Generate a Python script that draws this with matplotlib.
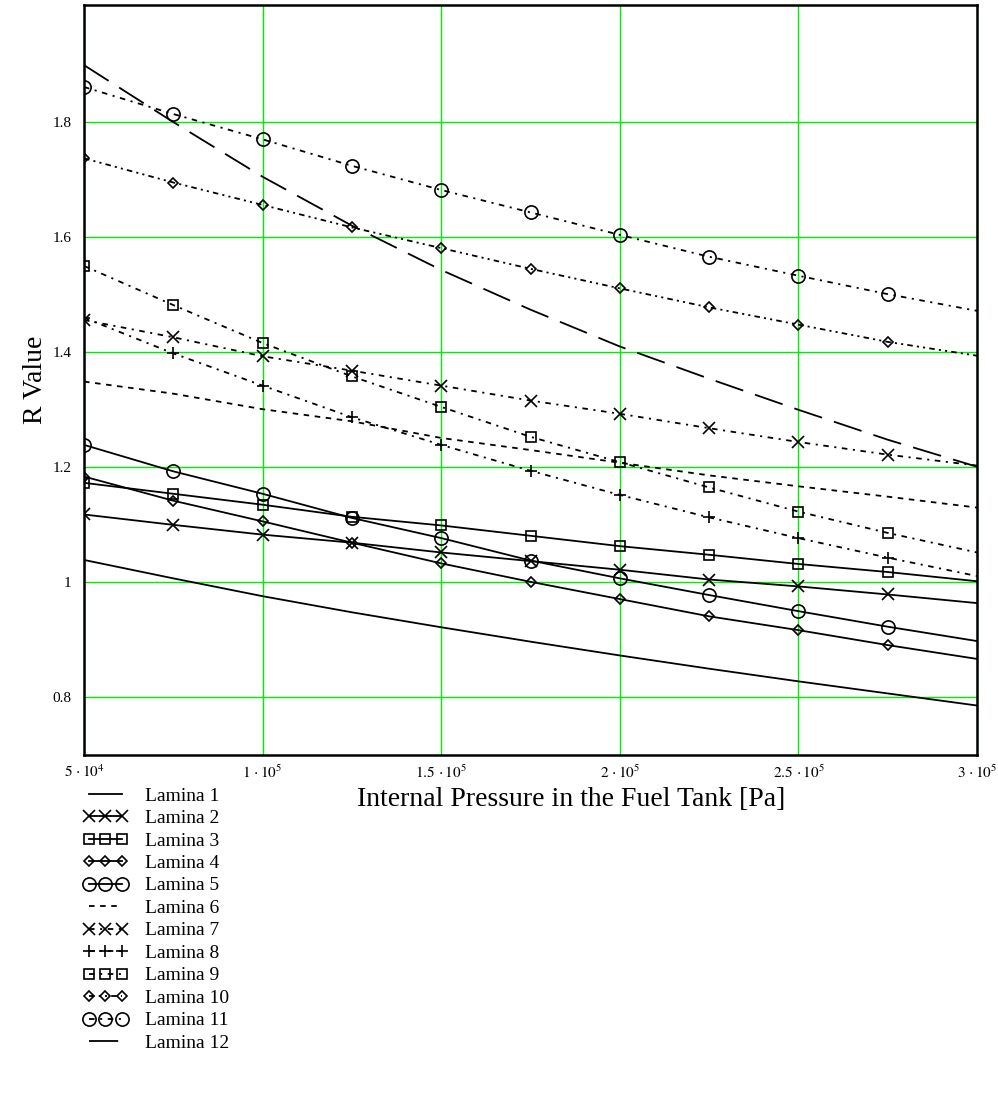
import matplotlib
matplotlib.use("Agg")
import matplotlib.pyplot as plt
from matplotlib.lines import Line2D

plt.rcParams['font.family'] = ['Liberation Serif', 'DejaVu Serif']
plt.rcParams['mathtext.fontset'] = 'stix'
plt.rcParams['lines.scale_dashes'] = False

pressure = [5e4, 7.5e4, 1e5, 1.25e5, 1.5e5, 1.75e5, 2e5, 2.25e5, 2.5e5, 2.75e5, 3e5]

lamina1 = [1.039, 1.007, 0.976, 0.948, 0.922, 0.897, 0.873, 0.850, 0.828, 0.807, 0.786]
lamina2 = [1.118, 1.100, 1.083, 1.069, 1.052, 1.037, 1.022, 1.005, 0.993, 0.979, 0.964]
lamina3 = [1.173, 1.154, 1.135, 1.114, 1.099, 1.081, 1.063, 1.048, 1.032, 1.018, 1.002]
lamina4 = [1.184, 1.142, 1.106, 1.069, 1.033, 1.001, 0.971, 0.941, 0.917, 0.891, 0.867]
lamina5 = [1.239, 1.193, 1.154, 1.112, 1.077, 1.038, 1.007, 0.978, 0.950, 0.923, 0.898]
lamina6 = [1.349, 1.328, 1.301, 1.280, 1.251, 1.230, 1.208, 1.186, 1.167, 1.149, 1.130]
lamina7 = [1.456, 1.426, 1.393, 1.368, 1.342, 1.316, 1.293, 1.268, 1.244, 1.222, 1.203]
lamina8 = [1.460, 1.398, 1.342, 1.287, 1.239, 1.194, 1.152, 1.113, 1.077, 1.043, 1.011]
lamina9 = [1.550, 1.482, 1.416, 1.358, 1.305, 1.253, 1.209, 1.165, 1.123, 1.086, 1.052]
lamina10 = [1.737, 1.695, 1.656, 1.617, 1.581, 1.545, 1.511, 1.478, 1.448, 1.418, 1.394]
lamina11 = [1.861, 1.814, 1.770, 1.724, 1.682, 1.643, 1.604, 1.566, 1.533, 1.501, 1.472]
lamina12 = [1.899, 1.800, 1.705, 1.620, 1.543, 1.474, 1.410, 1.354, 1.300, 1.248, 1.201]

labels = ['Lamina %d' % i for i in range(1, 13)]
series = [lamina1, lamina2, lamina3, lamina4, lamina5, lamina6,
          lamina7, lamina8, lamina9, lamina10, lamina11, lamina12]

x_ticks = [5e4, 1e5, 1.5e5, 2e5, 2.5e5, 3e5]
x_ticklabels = [r'$5\,\cdot 10^{4}$', r'$1\,\cdot 10^{5}$', r'$1.5\,\cdot 10^{5}$',
                r'$2\,\cdot 10^{5}$', r'$2.5\,\cdot 10^{5}$', r'$3\,\cdot 10^{5}$']
y_ticks = [0.8, 1.0, 1.2, 1.4, 1.6, 1.8]
y_ticklabels = ['0.8', '1', '1.2', '1.4', '1.6', '1.8']

solid = '-'
short = (0, (4, 4))
dashdot = (0, (4, 4, 1.5, 4))
dashdotdot = (0, (4, 3, 1.5, 3, 1.5, 3))
longdash = (0, (21, 9))

styles = [
    (solid, None, 0),
    (solid, 'x', 9),
    (solid, 's', 7),
    (solid, 'D', 5.5),
    (solid, 'o', 9.5),
    (short, None, 0),
    (dashdot, 'x', 9),
    (dashdot, '+', 9),
    (dashdot, 's', 7),
    (dashdotdot, 'D', 5.5),
    (dashdot, 'o', 9.5),
    (longdash, None, 0),
]

W, H = 998, 1093
fig = plt.figure(figsize=(W / 100, H / 100), dpi=100)
ax = fig.add_axes([84 / W, 1 - 755 / H, (977 - 84) / W, (755 - 5) / H])

ax.set_xlim(5e4, 3e5)
ax.set_ylim(0.7, 2.0035)
for xv in x_ticks:
    ax.axvline(xv, color='#00ee00', lw=1.0, zorder=1)
for yv in y_ticks:
    ax.axhline(yv, color='#00ee00', lw=1.0, zorder=1)

handles = []
for vals, lab, (ls, mk, ms) in zip(series, labels, styles):
    ax.plot(pressure, vals, color='black', lw=1.3, linestyle=ls, zorder=3)
    if mk is not None:
        ax.plot(pressure[:-1], vals[:-1], linestyle='none', marker=mk, ms=ms,
                mfc='none', mec='black', mew=1.2, color='black', zorder=4)
    handles.append(Line2D([0], [0], color='black', lw=1.3, linestyle=ls,
                          marker=mk if mk else None, ms=ms, mfc='none',
                          mec='black', mew=1.2))

ax.set_xticks(x_ticks)
ax.set_xticklabels(x_ticklabels, fontsize=11)
ax.set_yticks(y_ticks)
ax.set_yticklabels(y_ticklabels, fontsize=11)
ax.tick_params(axis='x', length=0, pad=6)
ax.tick_params(axis='y', length=0, pad=9)
for sp in ax.spines.values():
    sp.set_linewidth(1.8)
    sp.set_color('black')

fig.text(35 / W, 1 - 380 / H, 'R Value', rotation=90, ha='center', va='center', fontsize=20)
fig.text(571 / W, 1 - 799 / H, 'Internal Pressure in the Fuel Tank [Pa]',
         ha='center', va='center', fontsize=20)

fig.legend(handles, labels, loc='upper left', bbox_to_anchor=(83 / W, 1 - 787 / H),
           frameon=False, fontsize=14, numpoints=3, handlelength=2.3,
           handletextpad=0.9, labelspacing=0.25, borderpad=0, borderaxespad=0)

fig.savefig('out.png', dpi=100)
